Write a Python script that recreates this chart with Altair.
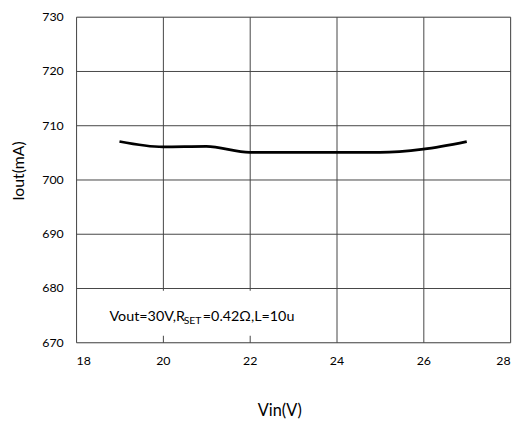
import altair as alt
import pandas as pd

vin = [19, 20, 21, 22, 23, 24, 25, 26, 27]
iout = [707.0, 706.0, 706.1, 705.0, 705.0, 705.0, 705.0, 705.6, 707.0]

box_x = [18.04]
box_x2 = [23.92]
box_y = [671.2]
box_y2 = [679.5]

FONT = "Lato"

df = pd.DataFrame({"vin": vin, "iout": iout})
box = pd.DataFrame({"x": box_x, "x2": box_x2, "y": box_y, "y2": box_y2})

xs = alt.Scale(domain=[18, 28], nice=False)
ys = alt.Scale(domain=[670, 730], nice=False)

line = alt.Chart(df).mark_line(color="black", strokeWidth=2.8, interpolate="monotone").encode(
    x=alt.X("vin:Q", scale=xs, title="Vin(V)",
            axis=alt.Axis(values=[18, 20, 22, 24, 26, 28], grid=True, ticks=False, domain=False,
                          labelPadding=13, titlePadding=36, labelFontSize=12.5, titleFontSize=16.5,
                          titleX=206, titleAnchor="start", titleAlign="center",
                          labelFont=FONT, titleFont=FONT, titleFontWeight="normal",
                          labelColor="black", titleColor="black",
                          gridColor="#444444", gridWidth=1)),
    y=alt.Y("iout:Q", scale=ys, title="Iout(mA)",
            axis=alt.Axis(values=[670, 680, 690, 700, 710, 720, 730], grid=True, ticks=False, domain=False,
                          labelPadding=13, titlePadding=16, labelFontSize=12.5, titleFontSize=16,
                          titleY=156, titleAlign="center",
                          labelFont=FONT, titleFont=FONT, titleFontWeight="normal",
                          labelColor="black", titleColor="black",
                          gridColor="#444444", gridWidth=1)),
)

rect = alt.Chart(box).mark_rect(color="white", opacity=1).encode(
    x=alt.X("x:Q", scale=xs), x2="x2:Q", y=alt.Y("y:Q", scale=ys), y2="y2:Q"
)

t1 = alt.Chart().mark_text(text="Vout=30V,R", align="left", baseline="alphabetic",
                           font=FONT, fontSize=14.5, color="black").encode(
    x=alt.datum(18.77, scale=xs), y=alt.datum(674.0, scale=ys))
t2 = alt.Chart().mark_text(text="SET", align="left", baseline="alphabetic",
                           font=FONT, fontSize=10.5, color="black").encode(
    x=alt.datum(20.48, scale=xs), y=alt.datum(673.3, scale=ys))
t3 = alt.Chart().mark_text(text="=0.42Ω,L=10u", align="left", baseline="alphabetic",
                           font=FONT, fontSize=14.5, color="black").encode(
    x=alt.datum(20.92, scale=xs), y=alt.datum(674.0, scale=ys))

chart = alt.layer(rect, line, t1, t2, t3).properties(
    width=440, height=330,
    autosize=alt.AutoSizeParams(type="none"),
    padding={"left": 69, "top": 6, "right": 10, "bottom": 79},
).configure_view(stroke="black", strokeWidth=2.2).configure(background="white")

chart.save("out.html", embed_options={"renderer": "svg", "actions": False})
